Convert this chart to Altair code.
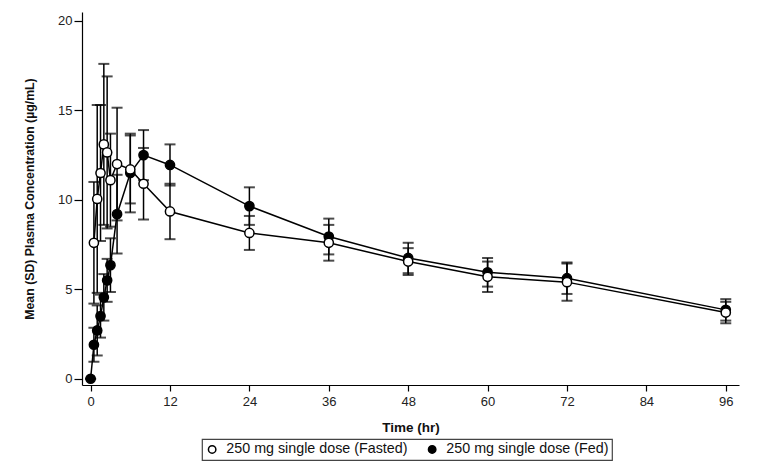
import altair as alt
import pandas as pd

times = [0, 0.5, 1, 1.5, 2, 2.5, 3, 4, 6, 8, 12, 24, 36, 48, 60, 72, 96]
fed_mean = [0, 1.9, 2.7, 3.5, 4.55, 5.5, 6.35, 9.2, 11.5, 12.5, 11.95, 9.65, 7.95, 6.75, 5.95, 5.62, 3.85]
fed_sd = [0, 0.95, 1.4, 1.2, 1.3, 1.2, 1.5, 2.2, 2.2, 1.4, 1.15, 1.05, 1.0, 0.85, 0.8, 0.88, 0.6]

fasted_times = [0.5, 1, 1.5, 2, 2.5, 3, 4, 6, 8, 12, 24, 36, 48, 60, 72, 96]
fasted_mean = [7.6, 10.05, 11.5, 13.1, 12.65, 11.1, 12.0, 11.7, 10.9, 9.35, 8.15, 7.6, 6.55, 5.7, 5.4, 3.7]
fasted_sd = [3.4, 5.25, 3.8, 4.5, 4.25, 2.6, 3.15, 1.9, 2.0, 1.55, 0.95, 1.0, 0.75, 0.85, 1.04, 0.6]

series_names = ["250 mg single dose (Fasted)", "250 mg single dose (Fed)"]
x_ticks = [0, 12, 24, 36, 48, 60, 72, 84, 96]
y_ticks = [0, 5, 10, 15, 20]

rows = []
for t, m, s in zip(times, fed_mean, fed_sd):
    rows.append({"time": t, "mean": m, "lo": m - s, "hi": m + s, "series": series_names[1], "ord": 0})
for t, m, s in zip(fasted_times, fasted_mean, fasted_sd):
    rows.append({"time": t, "mean": m, "lo": m - s, "hi": m + s, "series": series_names[0], "ord": 1})
df = pd.DataFrame(rows)

FONT = "Liberation Sans"

x = alt.X("time:Q", scale=alt.Scale(domain=[-1.3, 98], nice=False, zero=False),
          axis=alt.Axis(values=x_ticks, title="Time (hr)", grid=False))
y_scale = alt.Scale(domain=[-0.35, 20.5], nice=False, zero=False)

base = alt.Chart(df)

rules = base.mark_rule(color="black", strokeWidth=1.5).encode(
    x=x,
    y=alt.Y("lo:Q", scale=y_scale),
    y2="hi:Q",
)
caps_hi = base.mark_tick(color="black", orient="horizontal", size=11, thickness=2).encode(
    x=x, y=alt.Y("hi:Q", scale=y_scale)
)
caps_lo = base.mark_tick(color="black", orient="horizontal", size=11, thickness=2).encode(
    x=x, y=alt.Y("lo:Q", scale=y_scale)
)
lines = base.mark_line(color="black", strokeWidth=1.5).encode(
    x=x,
    y=alt.Y("mean:Q", scale=y_scale),
    detail="series:N",
)
points = base.mark_point(shape="circle", filled=True, stroke="black", strokeWidth=1.5,
                         size=85, opacity=1).encode(
    x=x,
    y=alt.Y("mean:Q", scale=y_scale,
            axis=alt.Axis(values=y_ticks, title="Mean (SD) Plasma Concentration (µg/mL)", grid=False)),
    fill=alt.Fill("series:N", scale=alt.Scale(domain=series_names, range=["white", "black"]),
                  legend=alt.Legend(title=None, orient="none", legendX=120, legendY=427,
                                    direction="horizontal", labelLimit=0)),
    order=alt.Order("ord:Q"),
)

chart = alt.layer(rules, caps_hi, caps_lo, lines, points).properties(
    width=657, height=373,
    autosize=alt.AutoSizeParams(type="none"),
    padding={"left": 74, "top": 4, "right": 30, "bottom": 80},
).configure_view(stroke=None).configure_axis(
    domainColor="black", domainWidth=1.2, tickColor="black", tickWidth=1.2,
    labelFont=FONT, labelFontSize=13, labelColor="#222",
    titleFont=FONT, titleFontWeight="bold", titleColor="#111",
).configure_axisY(titlePadding=21, tickSize=8, labelPadding=2, titleFontSize=12.3).configure_axisX(
    titlePadding=12, tickSize=6, labelPadding=4, titleFontSize=13.5
).configure_legend(
    strokeColor="#444", strokeWidth=1.2, padding=3, labelFont=FONT, labelFontSize=14.3,
    labelColor="#111", symbolSize=55, symbolStrokeWidth=1.5, symbolStrokeColor="black",
    symbolType="circle", columnPadding=17, labelOffset=7, cornerRadius=0, labelLimit=0,
)

chart.save("out.html", embed_options={"renderer": "svg", "actions": False})
